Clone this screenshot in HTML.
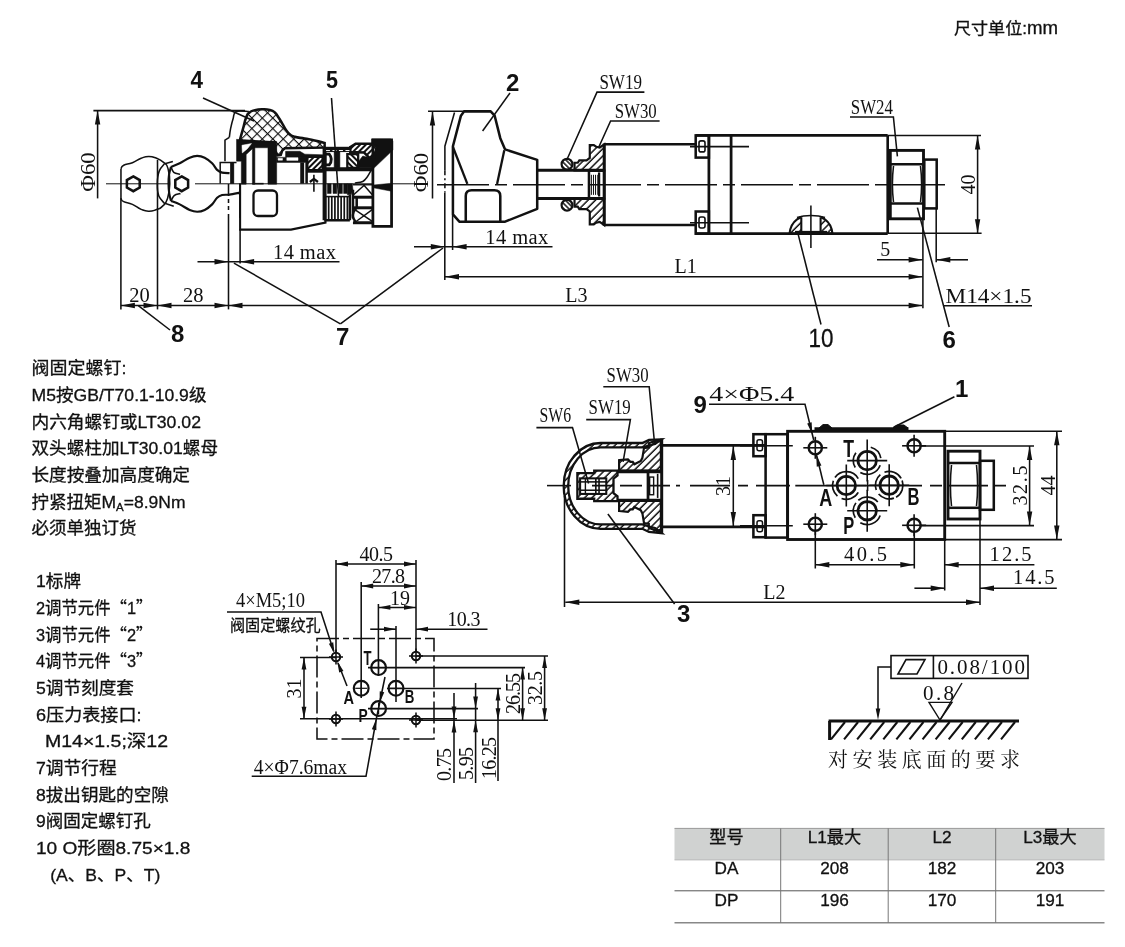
<!DOCTYPE html>
<html lang="zh"><head><meta charset="utf-8"><title>尺寸</title>
<style>
html,body{margin:0;padding:0;background:#fff;}
body{width:1125px;height:947px;overflow:hidden;position:relative;font-family:"Liberation Sans","Noto Sans CJK SC",sans-serif;color:#111;}
svg{position:absolute;left:0;top:0;will-change:transform;}
.cad{font-family:"Liberation Serif","Noto Serif CJK SC",serif;fill:#111;}
.sans{font-family:"Liberation Sans","Noto Sans CJK SC",sans-serif;fill:#111;stroke:#111;stroke-width:0.3;}
.cjk{font-family:"Noto Sans CJK SC",sans-serif;}
.num{font-family:"Liberation Sans","Noto Sans CJK SC",sans-serif;font-weight:bold;fill:#111;}
</style></head><body>
<svg width="1125" height="947" viewBox="0 0 1125 947">
<text x="954" y="34.3" font-size="16" class="sans" text-anchor="start" textLength="104" lengthAdjust="spacingAndGlyphs">尺寸单位:<tspan font-size="17.5">mm</tspan></text>
<text x="31.5" y="374.2" font-size="16.8" class="sans" text-anchor="start" textLength="95" lengthAdjust="spacingAndGlyphs">阀固定螺钉:</text>
<text x="31.5" y="400.9" font-size="16.8" class="sans" text-anchor="start" textLength="175" lengthAdjust="spacingAndGlyphs">M5按GB/T70.1-10.9级</text>
<text x="31.5" y="427.6" font-size="16.8" class="sans" text-anchor="start" textLength="169.5" lengthAdjust="spacingAndGlyphs">内六角螺钉或LT30.02</text>
<text x="31.5" y="454.3" font-size="16.8" class="sans" text-anchor="start" textLength="186.5" lengthAdjust="spacingAndGlyphs">双头螺柱加LT30.01螺母</text>
<text x="31.5" y="481" font-size="16.8" class="sans" text-anchor="start" textLength="158.5" lengthAdjust="spacingAndGlyphs">长度按叠加高度确定</text>
<text x="31.5" y="507.7" font-size="16.8" class="sans" text-anchor="start" textLength="154" lengthAdjust="spacingAndGlyphs">拧紧扭矩M<tspan font-size="11" dy="3">A</tspan><tspan dy="-3">=8.9Nm</tspan></text>
<text x="31.5" y="534.4" font-size="16.8" class="sans" text-anchor="start" textLength="105" lengthAdjust="spacingAndGlyphs">必须单独订货</text>
<text x="36" y="587.3" font-size="16.8" class="sans" text-anchor="start" textLength="45" lengthAdjust="spacingAndGlyphs">1标牌</text>
<text x="36" y="613.98" font-size="16.8" class="sans" text-anchor="start" textLength="116.5" lengthAdjust="spacingAndGlyphs">2调节元件<tspan class="cjk">“</tspan>1<tspan class="cjk">”</tspan></text>
<text x="36" y="640.66" font-size="16.8" class="sans" text-anchor="start" textLength="116.5" lengthAdjust="spacingAndGlyphs">3调节元件<tspan class="cjk">“</tspan>2<tspan class="cjk">”</tspan></text>
<text x="36" y="667.34" font-size="16.8" class="sans" text-anchor="start" textLength="116.5" lengthAdjust="spacingAndGlyphs">4调节元件<tspan class="cjk">“</tspan>3<tspan class="cjk">”</tspan></text>
<text x="36" y="694.02" font-size="16.8" class="sans" text-anchor="start" textLength="98" lengthAdjust="spacingAndGlyphs">5调节刻度套</text>
<text x="36" y="720.7" font-size="16.8" class="sans" text-anchor="start" textLength="105.5" lengthAdjust="spacingAndGlyphs">6压力表接口:</text>
<text x="45" y="747.38" font-size="16.8" class="sans" text-anchor="start" textLength="123" lengthAdjust="spacingAndGlyphs">M14×1.5;深12</text>
<text x="36" y="774.06" font-size="16.8" class="sans" text-anchor="start" textLength="80.7" lengthAdjust="spacingAndGlyphs">7调节行程</text>
<text x="36" y="800.74" font-size="16.8" class="sans" text-anchor="start" textLength="132.8" lengthAdjust="spacingAndGlyphs">8拔出钥匙的空隙</text>
<text x="36" y="827.42" font-size="16.8" class="sans" text-anchor="start" textLength="114.8" lengthAdjust="spacingAndGlyphs">9阀固定螺钉孔</text>
<text x="36" y="854.1" font-size="16.8" class="sans" text-anchor="start" textLength="154.3" lengthAdjust="spacingAndGlyphs">10 O形圈8.75×1.8</text>
<text x="50.2" y="880.78" font-size="16.8" class="sans" text-anchor="start" textLength="110.2" lengthAdjust="spacingAndGlyphs">(A、B、P、T)</text>
<rect x="674.5" y="828.4" width="430" height="31.4" fill="#d0d2d1"/>
<line x1="674.5" y1="828.4" x2="1104.5" y2="828.4" stroke="#9a9a9a" stroke-width="1" />
<line x1="674.5" y1="859.9" x2="1104.5" y2="859.9" stroke="#aaa" stroke-width="0.8" />
<line x1="674.5" y1="890.8" x2="1104.5" y2="890.8" stroke="#555" stroke-width="1" />
<line x1="674.5" y1="922.8" x2="1104.5" y2="922.8" stroke="#888" stroke-width="1.4" />
<line x1="780.7" y1="828.4" x2="780.7" y2="922.8" stroke="#777" stroke-width="1" />
<line x1="888.2" y1="828.4" x2="888.2" y2="922.8" stroke="#777" stroke-width="1" />
<line x1="995.7" y1="828.4" x2="995.7" y2="922.8" stroke="#777" stroke-width="1" />
<text x="726.5" y="843.2" font-size="17.2" class="sans" text-anchor="middle" >型号</text>
<text x="834.5" y="843.2" font-size="17.2" class="sans" text-anchor="middle" >L1最大</text>
<text x="942" y="843.2" font-size="17.2" class="sans" text-anchor="middle" >L2</text>
<text x="1050" y="843.2" font-size="17.2" class="sans" text-anchor="middle" >L3最大</text>
<text x="726.5" y="873.6" font-size="17.2" class="sans" text-anchor="middle" >DA</text>
<text x="834.5" y="873.6" font-size="17.2" class="sans" text-anchor="middle" >208</text>
<text x="942" y="873.6" font-size="17.2" class="sans" text-anchor="middle" >182</text>
<text x="1050" y="873.6" font-size="17.2" class="sans" text-anchor="middle" >203</text>
<text x="726.5" y="905.6" font-size="17.2" class="sans" text-anchor="middle" >DP</text>
<text x="834.5" y="905.6" font-size="17.2" class="sans" text-anchor="middle" >196</text>
<text x="942" y="905.6" font-size="17.2" class="sans" text-anchor="middle" >170</text>
<text x="1050" y="905.6" font-size="17.2" class="sans" text-anchor="middle" >191</text>
<line x1="93.4" y1="110.6" x2="245" y2="110.6" stroke="#111" stroke-width="1.55" />
<line x1="97.6" y1="110.6" x2="97.6" y2="198.4" stroke="#111" stroke-width="1.55" />
<polygon points="97.6,110.6 100.3,124.6 94.9,124.6" fill="#111"/>
<text x="94.6" y="172" font-size="21.5" class="cad" text-anchor="middle" transform="rotate(-90 94.6 172)" textLength="39.5" lengthAdjust="spacingAndGlyphs">Φ60</text>
<line x1="106" y1="183.8" x2="168" y2="183.8" stroke="#111" stroke-width="1" />
<line x1="195" y1="183.8" x2="372" y2="183.8" stroke="#111" stroke-width="1" />
<line x1="392" y1="183.8" x2="418" y2="183.8" stroke="#111" stroke-width="1" />
<path d="M120.96,168.64 C121.69,167.74 120.64,166.87 123.7,165.28 C126.76,163.69 127.77,164.53 132.42,162.67 C137.07,160.81 136.81,159.97 141.13,158.31 C145.45,156.65 144.62,156.51 148.61,156.44 C152.60,156.37 152.10,156.47 156.08,158.06 C160.06,159.65 160.36,159.60 163.55,162.42 C166.74,165.24 166.37,162.93 168.03,168.64 C169.69,174.35 169.91,175.87 169.78,183.84 C169.65,191.81 169.52,192.52 167.53,198.53 C165.54,204.54 165.35,203.39 162.3,206.38 C159.25,209.37 159.73,208.45 156.08,209.74 C152.43,211.03 152.60,211.33 148.61,211.23 C144.62,211.13 145.45,211.19 141.13,209.36 C136.81,207.53 137.07,206.44 132.42,204.38 C127.77,202.32 126.76,203.20 123.7,201.64 C120.64,200.08 121.69,199.36 120.96,198.53" fill="none" stroke="#111" stroke-width="1.55" />
<polyline points="120.96,168.64 120.96,198.53" fill="none" stroke="#111" stroke-width="1.55" />
<path d="M164.79,163.41 C163.86,164.70 160.44,167.72 159.19,171.13 C157.94,174.53 157.38,179.69 157.32,183.84 C157.26,187.99 157.57,192.72 158.82,196.04 C160.06,199.36 163.79,202.47 164.79,203.76" fill="none" stroke="#111" stroke-width="1.55" />
<polyline points="172.89,161.42 164.79,163.66" fill="none" stroke="#111" stroke-width="1.55" />
<polyline points="164.79,203.26 173.76,206.25" fill="none" stroke="#111" stroke-width="1.55" />
<path d="M171.02,166.77 C172.47,166.19 176.63,164.81 179.74,163.29 C182.85,161.77 186.79,158.91 189.7,157.68 C192.60,156.46 194.68,155.94 197.17,155.94 C199.66,155.94 202.16,156.46 204.65,157.68 C207.14,158.91 210.05,161.25 212.12,163.29 C214.19,165.32 215.44,168.33 217.1,169.89 C218.76,171.45 220.00,172.09 222.08,172.63 C224.16,173.17 228.31,173.05 229.55,173.13" fill="none" stroke="#111" stroke-width="2.18" />
<path d="M171.02,200.9 C172.47,201.48 176.63,202.87 179.74,204.38 C182.85,205.89 186.79,208.77 189.7,209.99 C192.60,211.22 194.68,211.73 197.17,211.73 C199.66,211.73 202.16,211.22 204.65,209.99 C207.14,208.77 210.05,206.41 212.12,204.38 C214.19,202.34 215.44,199.34 217.1,197.78 C218.76,196.22 220.00,195.58 222.08,195.04 C224.16,194.50 226.65,194.94 229.55,194.55 C232.46,194.16 237.85,192.99 239.51,192.68" fill="none" stroke="#111" stroke-width="2.18" />
<path d="M171.02,166.77 C170.69,168.12 169.44,172.03 169.03,174.87 C168.62,177.72 168.49,180.73 168.53,183.84 C168.57,186.95 168.87,190.69 169.28,193.55 C169.69,196.41 170.73,199.78 171.02,201.02" fill="none" stroke="#111" stroke-width="2.18" />
<path d="M171.02,166.77 C171.48,167.71 172.26,171.11 173.76,172.38 C175.25,173.65 178.95,174.04 179.99,174.37" fill="none" stroke="#111" stroke-width="1.6" />
<path d="M171.02,201.02 C171.54,200.11 172.55,196.78 174.13,195.54 C175.71,194.29 179.43,193.88 180.49,193.55" fill="none" stroke="#111" stroke-width="1.6" />
<polygon points="133.3,176.4 139.709,180.1 139.709,187.5 133.3,191.2 126.891,187.5 126.891,180.1" fill="none" stroke="#111" stroke-width="2.53" />
<polygon points="181.7,176.4 188.109,180.1 188.109,187.5 181.7,191.2 175.291,187.5 175.291,180.1" fill="none" stroke="#111" stroke-width="2.53" />
<line x1="120.9" y1="198" x2="120.9" y2="309.4" stroke="#111" stroke-width="1.55" />
<line x1="157.5" y1="160" x2="157.5" y2="309.4" stroke="#111" stroke-width="1.55" />
<line x1="228.5" y1="184" x2="228.5" y2="196" stroke="#111" stroke-width="1.55" />
<line x1="228.5" y1="199" x2="228.5" y2="203" stroke="#111" stroke-width="1.55" />
<line x1="228.5" y1="206" x2="228.5" y2="210" stroke="#111" stroke-width="1.55" />
<line x1="228.5" y1="214" x2="228.5" y2="309.4" stroke="#111" stroke-width="1.55" />
<defs>
<pattern id="xh" width="7.4" height="7.4" patternUnits="userSpaceOnUse" patternTransform="rotate(45) translate(2,1)"><path d="M0,0H7.4M0,0V7.4" stroke="#111" stroke-width="2.2" fill="none"/></pattern>
<pattern id="h45" width="3.4" height="3.4" patternUnits="userSpaceOnUse" patternTransform="rotate(-45)"><path d="M0,1H3.4" stroke="#111" stroke-width="1.3" fill="none"/></pattern>
<pattern id="h45f" width="2.6" height="2.6" patternUnits="userSpaceOnUse" patternTransform="rotate(-45)"><path d="M0,1H2.6" stroke="#111" stroke-width="1.1" fill="none"/></pattern>
<pattern id="h135" width="3.4" height="3.4" patternUnits="userSpaceOnUse" patternTransform="rotate(45)"><path d="M0,1H3.4" stroke="#111" stroke-width="1.3" fill="none"/></pattern>
<pattern id="h45s" width="5.2" height="5.2" patternUnits="userSpaceOnUse" patternTransform="rotate(-45)"><path d="M0,1H5.2" stroke="#111" stroke-width="1.5" fill="none"/></pattern>
<pattern id="h135s" width="3.6" height="3.6" patternUnits="userSpaceOnUse" patternTransform="rotate(45)"><path d="M0,1H3.6" stroke="#111" stroke-width="1.5" fill="none"/></pattern>
<pattern id="h45b" width="4" height="4" patternUnits="userSpaceOnUse" patternTransform="rotate(-45)"><path d="M0,1H4" stroke="#111" stroke-width="2" fill="none"/></pattern>
<pattern id="h135b" width="4" height="4" patternUnits="userSpaceOnUse" patternTransform="rotate(45)"><path d="M0,1H4" stroke="#111" stroke-width="2" fill="none"/></pattern>
<pattern id="hd" width="1.6" height="1.6" patternUnits="userSpaceOnUse" patternTransform="rotate(-45)"><path d="M0,0.6H1.6" stroke="#111" stroke-width="1.1" fill="none"/></pattern>
</defs>
<path d="M239.93,139.85 C240.76,136.86 241.38,134.62 243.04,128.64 C244.70,122.66 244.42,121.75 246.15,117.43 C247.88,113.11 247.18,114.38 249.51,112.45 C251.84,110.52 251.45,111.04 254.87,110.21 C258.29,109.38 258.36,109.41 262.34,109.34 C266.32,109.27 266.49,109.13 269.81,109.96 C273.13,110.79 272.46,110.46 274.79,112.45 C277.12,114.44 276.54,114.44 278.53,117.43 C280.52,120.42 280.28,120.34 282.27,123.66 C284.26,126.98 284.01,127.07 286,129.89 C287.99,132.71 287.41,132.42 289.74,134.25 C292.07,136.08 290.74,135.58 294.72,136.74 C298.70,137.90 299.37,137.62 304.68,138.61 C309.99,139.60 309.34,139.31 314.65,140.47 C319.96,141.63 321.95,142.30 324.61,142.96 L324.61,147.57 L284.76,148.32 L282.27,150.44 L280.77,154.79 L277.53,155.42 L275.42,151.06 L274.79,142.34 L239.93,140.47Z" fill="url(#xh)" stroke="#111" stroke-width="2.53" />
<path d="M248.89,111.46 C246.35,111.46 239.35,110.02 236.19,111.46 C233.03,112.90 234.20,115.24 233.08,118.68 C231.96,122.12 231.34,124.90 230.59,128.64 C229.84,132.38 229.59,135.62 229.34,137.36" fill="none" stroke="#111" stroke-width="1.55" />
<polyline points="229.34,137.36 224.98,140.1 224.98,161.27" fill="none" stroke="#111" stroke-width="1.55" />
<polygon points="236.52,139.34 243.68,139.96 251.77,141.52 276.68,141.52 276.68,184.17 267.96,184.17 267.96,147.75 254.89,147.75 254.89,184.17 252.4,184.17 252.4,148.68 246.17,154.6 246.17,184.17 241.31,184.17 241.31,161.13 236.52,161.13" fill="#111" stroke="#111" stroke-width="0.5" />
<polygon points="241.94,145.26 251.46,143.57 247.42,148.68 242.31,152.91" fill="#fff" stroke="#fff" stroke-width="0.5" />
<polyline points="252.4,183.67 263.61,183.67" fill="none" stroke="#111" stroke-width="1.6" />
<path d="M236.5,162.4 H220.2 V183.6" fill="none" stroke="#111" stroke-width="1.5" />
<rect x="230.3" y="162.4" width="3.6" height="21.2" rx="0" fill="#111" stroke="#111" stroke-width="0.5"/>
<polygon points="285.57,151.3 299.89,151.3 304.87,154.16 322.93,154.78 322.93,156.9 307.36,156.9 301.13,157.4 285.57,157.4" fill="#111" stroke="#111" stroke-width="0.5" />
<polygon points="276.54,157.4 307.36,156.9 307.36,162.38 276.54,162.38" fill="#111" stroke="#111" stroke-width="0.5" />
<polygon points="286.81,157.71 298.02,157.71 298.02,160.39 286.81,160.39" fill="#fff" stroke="#fff" stroke-width="0.5" />
<polygon points="278.09,158.33 282.45,158.33 282.45,160.2 278.09,160.2" fill="#fff" stroke="#fff" stroke-width="0.5" />
<polygon points="301.13,157.4 307.36,156.9 307.36,160.39 301.13,160.39" fill="url(#h45b)" stroke="#111" stroke-width="0.5" />
<polygon points="307.36,156.9 322.62,156.9 322.62,170.16 307.36,170.16" fill="url(#h45b)" stroke="#111" stroke-width="2.3" />
<polyline points="306.74,171.22 322.93,171.22" fill="none" stroke="#111" stroke-width="2.99" />
<polyline points="302.19,162.38 302.19,183.55" fill="none" stroke="#111" stroke-width="3.91" />
<polyline points="306.61,162.38 306.61,183.55" fill="none" stroke="#111" stroke-width="2.53" />
<polyline points="313.9,174.83 313.9,191.64" fill="none" stroke="#111" stroke-width="1.6" />
<path d="M309.85,181.99 L313.9,178.88 L317.95,181.99" fill="none" stroke="#111" stroke-width="2.3" />
<polyline points="239.93,183.19 239.93,217.93" fill="none" stroke="#111" stroke-width="1.6" />
<rect x="253.5" y="190.5" width="23.5" height="25.5" rx="4.5" fill="none" stroke="#111" stroke-width="2.3"/>
<path d="M240.1,184 V229.6 H291 L325.5,222.6 V150" fill="none" stroke="#111" stroke-width="2.07" />
<line x1="240.1" y1="229" x2="240.1" y2="263.5" stroke="#111" stroke-width="1.55" />
<path d="M239.51,192.68 C239.51,193.03 239.51,194.44 239.51,194.79" fill="none" stroke="#111" stroke-width="1.5" />
<polygon points="372.89,139.93 391.57,139.93 391.57,226.48 372.89,226.48" fill="none" stroke="#111" stroke-width="2.76" />
<polygon points="371.67,138.91 390.42,138.91 392.92,140.88 392.92,150.09 374.3,167.86 358.84,167.86 358.84,160.95 362.79,156.01 369.37,157.79 374.63,157 376.93,146.14 371.67,143.51" fill="#111" stroke="#111" stroke-width="0.5" />
<polygon points="350.29,147 355.55,143.84 371.67,143.84 376.74,146.34 374.3,157.13 369.37,157.79 364.11,152.53 350.29,152.07" fill="url(#h45b)" stroke="#111" stroke-width="2.53" />
<polyline points="323.97,149.43 350.95,149.43" fill="none" stroke="#111" stroke-width="5.29" />
<polyline points="325.95,150.55 349.63,150.55" fill="none" stroke="#fff" stroke-width="1" stroke-dasharray="4 2.5"/>
<path d="M324.96,154.04 L329.24,154.04 Q333.51,159.3 329.24,164.89 L324.96,164.89 Z" fill="none" stroke="#111" stroke-width="2.76" />
<polygon points="334.17,151.74 339.89,151.74 339.89,167.86 334.17,167.86" fill="#111" stroke="#111" stroke-width="0.5" />
<polygon points="347.33,154.04 358.18,154.04 358.18,167.86 347.33,167.86" fill="url(#h135b)" stroke="#111" stroke-width="2.3" />
<polyline points="322,169.17 372.99,169.17" fill="none" stroke="#111" stroke-width="3.91" />
<polyline points="324.32,147.65 324.32,220.25" fill="none" stroke="#111" stroke-width="3.45" />
<path d="M371.01,170.49 C370.41,171.53 368.76,174.91 367.39,176.74 C366.02,178.57 364.87,180.43 362.79,181.47 C360.71,182.51 356.21,182.74 354.89,182.99" fill="none" stroke="#111" stroke-width="1.5" />
<polygon points="373.51,185.01 391.57,183.26 391.57,191.23 373.51,187.87" fill="#111" stroke="#111" stroke-width="0.5" />
<polygon points="327.43,183.76 331.17,183.76 331.17,193.47 327.43,193.47" fill="#111" stroke="#111" stroke-width="0.5" />
<polygon points="333.04,183.76 336.77,183.76 336.77,193.47 333.04,193.47" fill="#111" stroke="#111" stroke-width="0.5" />
<polygon points="338.64,183.76 342.38,183.76 342.38,193.47 338.64,193.47" fill="#111" stroke="#111" stroke-width="0.5" />
<polygon points="343.62,183.76 347.36,183.76 347.36,193.47 343.62,193.47" fill="#111" stroke="#111" stroke-width="0.5" />
<polygon points="347.36,183.76 352.34,183.76 352.96,189.74 351.1,194.72 347.36,194.72" fill="#111" stroke="#111" stroke-width="0.5" />
<polyline points="325.57,196.59 325.57,219.63" fill="none" stroke="#111" stroke-width="1.7" />
<polyline points="328.68,196.59 328.68,219.63" fill="none" stroke="#111" stroke-width="1.7" />
<polyline points="331.79,196.59 331.79,219.63" fill="none" stroke="#111" stroke-width="1.7" />
<polyline points="334.91,196.59 334.91,219.63" fill="none" stroke="#111" stroke-width="1.7" />
<polyline points="338.02,196.59 338.02,219.63" fill="none" stroke="#111" stroke-width="1.7" />
<polyline points="341.13,196.59 341.13,219.63" fill="none" stroke="#111" stroke-width="1.7" />
<polyline points="344.25,196.59 344.25,219.63" fill="none" stroke="#111" stroke-width="1.7" />
<polyline points="347.36,196.59 347.36,219.63" fill="none" stroke="#111" stroke-width="1.7" />
<polyline points="324.32,220.25 349.85,220.25" fill="none" stroke="#111" stroke-width="2.53" />
<polyline points="325.57,196.59 349.85,196.59" fill="none" stroke="#111" stroke-width="1.55" />
<polyline points="349.85,194.72 349.85,220.25" fill="none" stroke="#111" stroke-width="2.53" />
<polyline points="352.96,184.76 372.27,184.76" fill="none" stroke="#111" stroke-width="1.4" />
<polyline points="352.96,197.21 372.27,197.21" fill="none" stroke="#111" stroke-width="2.99" />
<polyline points="352.96,207.8 372.27,207.8" fill="none" stroke="#111" stroke-width="2.99" />
<polyline points="352.96,222.74 372.27,222.74" fill="none" stroke="#111" stroke-width="2.99" />
<polyline points="356.7,197.21 356.7,207.8" fill="none" stroke="#111" stroke-width="2.53" />
<polyline points="352.96,189.74 352.96,218.38" fill="none" stroke="#111" stroke-width="2.53" />
<polyline points="353.59,194.72 364.79,184.76" fill="none" stroke="#111" stroke-width="1.5" />
<polyline points="363.55,184.76 372.27,194.72" fill="none" stroke="#111" stroke-width="1.5" />
<polyline points="354.83,209.66 372.27,221.49" fill="none" stroke="#111" stroke-width="1.5" />
<polyline points="356.08,221.49 372.27,209.66" fill="none" stroke="#111" stroke-width="1.5" />
<path d="M356.7,207.8 C356.18,208.53 354.21,210.59 353.59,212.15 C352.97,213.71 352.54,215.38 352.96,217.14 C353.38,218.90 355.56,221.81 356.08,222.74" fill="none" stroke="#111" stroke-width="2.3" />
<line x1="331.5" y1="98" x2="338.5" y2="196" stroke="#111" stroke-width="1.55" />
<line x1="432.5" y1="111.5" x2="432.5" y2="198.5" stroke="#111" stroke-width="1.55" />
<polygon points="432.5,111.5 435.2,125.5 429.8,125.5" fill="#111"/>
<text x="427.6" y="172.5" font-size="21.5" class="cad" text-anchor="middle" transform="rotate(-90 427.6 172.5)" textLength="39.5" lengthAdjust="spacingAndGlyphs">Φ60</text>
<text x="190.5" y="87.5" font-size="24" class="num" text-anchor="start" textLength="12.5" lengthAdjust="spacingAndGlyphs">4</text>
<text x="326" y="87.5" font-size="24" class="num" text-anchor="start" textLength="12" lengthAdjust="spacingAndGlyphs">5</text>
<line x1="203" y1="98" x2="254" y2="121" stroke="#111" stroke-width="1.55" />
<line x1="197.5" y1="261.8" x2="339.5" y2="261.8" stroke="#111" stroke-width="1.55" />
<polygon points="228.5,261.8 214.5,264.5 214.5,259.1" fill="#111"/>
<polygon points="240.1,261.8 254.1,259.1 254.1,264.5" fill="#111"/>
<text x="273" y="258.5" font-size="20.5" class="cad" text-anchor="start" textLength="63" lengthAdjust="spacing">14 max</text>
<line x1="120.9" y1="305.5" x2="922" y2="305.5" stroke="#111" stroke-width="1.55" />
<polygon points="120.9,305.5 134.9,302.8 134.9,308.2" fill="#111"/>
<polygon points="157.5,305.5 143.5,308.2 143.5,302.8" fill="#111"/>
<polygon points="157.5,305.5 171.5,302.8 171.5,308.2" fill="#111"/>
<polygon points="228.5,305.5 214.5,308.2 214.5,302.8" fill="#111"/>
<polygon points="228.5,305.5 242.5,302.8 242.5,308.2" fill="#111"/>
<text x="129.3" y="302" font-size="20.5" class="cad" text-anchor="start" >20</text>
<text x="183" y="302" font-size="20.5" class="cad" text-anchor="start" >28</text>
<line x1="138.3" y1="305.7" x2="170" y2="330" stroke="#111" stroke-width="1.55" />
<text x="171" y="341.5" font-size="24" class="num" text-anchor="start" >8</text>
<line x1="233.9" y1="263.1" x2="340.4" y2="323.9" stroke="#111" stroke-width="1.55" />
<line x1="340.4" y1="323.9" x2="443" y2="248" stroke="#111" stroke-width="1.55" />
<text x="336" y="344.5" font-size="24" class="num" text-anchor="start" >7</text>
<path d="M460.94,115.69 L452.92,146.2 L452.92,214.44 L459.34,221.66 L505.1,221.66 L537.21,208.82 L537.21,159.85 L505.1,149.41 L500.28,138.17 L494.66,115.69 L490.65,111.36 L464.16,111.36Z" fill="none" stroke="#111" stroke-width="2.53" stroke-linejoin="round"/>
<polyline points="452.92,147 467.37,183.93" fill="none" stroke="#111" stroke-width="2.3" />
<polyline points="504.3,150.21 497.07,183.93" fill="none" stroke="#111" stroke-width="2.3" />
<path d="M465.76,221.66 L465.76,195.97 Q465.76,190.35 471.7,190.35 L494.34,190.35 Q500.28,190.35 500.28,195.97 L500.28,221.66" fill="none" stroke="#111" stroke-width="2.53" />
<polyline points="428.03,111.19 466.56,111.19" fill="none" stroke="#111" stroke-width="1.55" />
<polyline points="454.52,112.48 444.89,146.2 444.89,170.28" fill="none" stroke="#111" stroke-width="1.55" />
<polyline points="444.89,170.28 444.89,192.76" fill="none" stroke="#111" stroke-width="1.55" stroke-dasharray="5 3 2 3"/>
<line x1="444.8" y1="193" x2="444.8" y2="280" stroke="#111" stroke-width="1.55" />
<line x1="452.6" y1="215" x2="452.6" y2="250" stroke="#111" stroke-width="1.55" />
<line x1="437" y1="184.7" x2="945" y2="184.7" stroke="#111" stroke-width="1.55" stroke-dasharray="52 6 12 6"/>
<line x1="537.2" y1="170.3" x2="604" y2="170.3" stroke="#111" stroke-width="2.99" />
<line x1="537.2" y1="198.6" x2="604" y2="198.6" stroke="#111" stroke-width="2.99" />
<circle cx="567" cy="164.2" r="5.4" fill="url(#h135s)" stroke="#111" stroke-width="2.18"/>
<circle cx="567" cy="205.2" r="5.4" fill="url(#h135s)" stroke="#111" stroke-width="2.18"/>
<polygon points="604.23,144.3 599.73,147.51 596.2,146.71 593.79,145.1 589.78,145.1 589.78,157.94 586.56,160.35 579.34,160.35 577.73,162.76 574.52,162.76 574.52,170.47 588.97,170.47 604.23,170.47" fill="url(#h45s)" stroke="#111" stroke-width="2.18" />
<polygon points="604.23,225.1 599.73,221.89 596.2,222.69 593.79,224.3 589.78,224.3 589.78,211.46 586.56,209.05 579.34,209.05 577.73,206.64 574.52,206.64 574.52,198.93 588.97,198.93 604.23,198.93" fill="url(#h45s)" stroke="#111" stroke-width="2.18" />
<polygon points="588.97,170.79 604.23,170.79 604.23,198.41 588.97,198.41" fill="none" stroke="#111" stroke-width="2.53" />
<polyline points="591.38,174.8 591.38,194.87" fill="none" stroke="#111" stroke-width="1.0" />
<polyline points="593.47,174.8 593.47,194.87" fill="none" stroke="#111" stroke-width="1.0" />
<polyline points="595.56,174.8 595.56,194.87" fill="none" stroke="#111" stroke-width="1.0" />
<polyline points="597.8,174.8 597.8,194.87" fill="none" stroke="#111" stroke-width="1.0" />
<polyline points="599.09,172.4 599.09,196.48" fill="none" stroke="#111" stroke-width="2.3" />
<line x1="604.2" y1="143.5" x2="604.2" y2="225.8" stroke="#111" stroke-width="2.99" />
<line x1="604.2" y1="144.3" x2="697" y2="144.3" stroke="#111" stroke-width="2.53" />
<line x1="604.2" y1="225.1" x2="697" y2="225.1" stroke="#111" stroke-width="2.53" />
<rect x="695.7" y="135.4" width="13.2" height="22.2" rx="0" fill="none" stroke="#111" stroke-width="2.53"/>
<rect x="699" y="140.9" width="6" height="11" rx="2" fill="none" stroke="#111" stroke-width="1.6"/>
<rect x="695.7" y="211.5" width="13.2" height="22.2" rx="0" fill="none" stroke="#111" stroke-width="2.53"/>
<rect x="699" y="217" width="6" height="11" rx="2" fill="none" stroke="#111" stroke-width="1.6"/>
<line x1="690" y1="146.6" x2="749" y2="146.6" stroke="#111" stroke-width="1.55" />
<line x1="690" y1="222.7" x2="749" y2="222.7" stroke="#111" stroke-width="1.55" />
<line x1="695.7" y1="135.4" x2="887.7" y2="135.4" stroke="#111" stroke-width="2.64" />
<line x1="695.7" y1="233.6" x2="887.7" y2="233.6" stroke="#111" stroke-width="2.64" />
<line x1="708.9" y1="135.4" x2="708.9" y2="233.6" stroke="#111" stroke-width="2.76" />
<line x1="731.1" y1="135.4" x2="731.1" y2="233.6" stroke="#111" stroke-width="2.76" />
<line x1="887.7" y1="135.4" x2="887.7" y2="233.6" stroke="#111" stroke-width="2.64" />
<path d="M789.5,233.6 C791,220 801,215.4 810.9,215.4 C821,215.4 831,220 832.5,233.6 Z" fill="url(#h45s)" stroke="#111" stroke-width="2.07" />
<rect x="801.3" y="214" width="19.4" height="18.6" fill="#fff"/>
<path d="M801.3,217.2 V233 M820.6,217.2 V233" fill="none" stroke="#111" stroke-width="2.07" />
<path d="M797,217.6 C805,214.8 817,214.8 825,217.6" fill="none" stroke="#111" stroke-width="1.6" />
<line x1="795" y1="232.6" x2="827" y2="232.6" stroke="#111" stroke-width="3.45" />
<line x1="810.9" y1="205.5" x2="810.9" y2="248" stroke="#111" stroke-width="1.55" />
<rect x="890.3" y="150.4" width="33.2" height="68.4" rx="0" fill="none" stroke="#111" stroke-width="2.88"/>
<line x1="890.3" y1="164.3" x2="923.5" y2="164.3" stroke="#111" stroke-width="2.53" />
<line x1="890.3" y1="203.6" x2="923.5" y2="203.6" stroke="#111" stroke-width="2.53" />
<path d="M893.5,166 Q891.3,184.5 893.5,202" fill="none" stroke="#111" stroke-width="1.55" />
<path d="M920.5,166 Q922.7,184.5 920.5,202" fill="none" stroke="#111" stroke-width="1.55" />
<rect x="924.3" y="159.6" width="12.4" height="48.8" rx="0" fill="none" stroke="#111" stroke-width="2.53"/>
<line x1="922.9" y1="219" x2="922.9" y2="308.3" stroke="#111" stroke-width="1.55" />
<line x1="936.2" y1="208" x2="936.2" y2="262.3" stroke="#111" stroke-width="1.55" />
<line x1="887.7" y1="135.4" x2="981" y2="135.4" stroke="#111" stroke-width="1.55" />
<line x1="887.7" y1="233.3" x2="981.6" y2="233.3" stroke="#111" stroke-width="1.55" />
<line x1="977.6" y1="135.4" x2="977.6" y2="233.3" stroke="#111" stroke-width="1.55" />
<polygon points="977.6,135.4 980.3,149.4 974.9,149.4" fill="#111"/>
<polygon points="977.6,233.3 974.9,219.3 980.3,219.3" fill="#111"/>
<text x="975" y="184.4" font-size="20" class="cad" text-anchor="middle" transform="rotate(-90 975 184.4)" >40</text>
<line x1="877" y1="259.8" x2="922.6" y2="259.8" stroke="#111" stroke-width="1.55" />
<polygon points="922.6,259.8 908.6,262.5 908.6,257.1" fill="#111"/>
<line x1="936.3" y1="259.8" x2="968" y2="259.8" stroke="#111" stroke-width="1.55" />
<polygon points="936.3,259.8 950.3,257.1 950.3,262.5" fill="#111"/>
<text x="880.3" y="256" font-size="20" class="cad" text-anchor="start" >5</text>
<line x1="445" y1="276.8" x2="922.6" y2="276.8" stroke="#111" stroke-width="1.55" />
<polygon points="445,276.8 459,274.1 459,279.5" fill="#111"/>
<polygon points="922.6,276.8 908.6,279.5 908.6,274.1" fill="#111"/>
<polygon points="922.6,305.5 908.6,308.2 908.6,302.8" fill="#111"/>
<text x="674.5" y="273.3" font-size="20" class="cad" text-anchor="start" >L1</text>
<text x="565.3" y="302" font-size="20" class="cad" text-anchor="start" >L3</text>
<line x1="414" y1="246.7" x2="552.5" y2="246.7" stroke="#111" stroke-width="1.55" />
<polygon points="444.8,246.7 430.8,249.4 430.8,244" fill="#111"/>
<polygon points="452.6,246.7 466.6,244 466.6,249.4" fill="#111"/>
<text x="485.3" y="243.5" font-size="20.5" class="cad" text-anchor="start" textLength="63" lengthAdjust="spacing">14 max</text>
<text x="599.4" y="88.6" font-size="20.5" class="cad" text-anchor="start" textLength="42.6" lengthAdjust="spacingAndGlyphs">SW19</text>
<path d="M644.4,92.1 H597 L567.3,158.7" fill="none" stroke="#111" stroke-width="1.55" />
<text x="614.7" y="117.5" font-size="20.5" class="cad" text-anchor="start" textLength="42" lengthAdjust="spacingAndGlyphs">SW30</text>
<path d="M659.6,121 H610.6 L598.6,147.5" fill="none" stroke="#111" stroke-width="1.55" />
<text x="850.8" y="113.7" font-size="20.5" class="cad" text-anchor="start" textLength="42.2" lengthAdjust="spacingAndGlyphs">SW24</text>
<path d="M850,116.9 H893.4 L897.4,156.3" fill="none" stroke="#111" stroke-width="1.55" />
<text x="945.5" y="302.6" font-size="20.5" class="cad" text-anchor="start" textLength="86" lengthAdjust="spacingAndGlyphs">M14×1.5</text>
<line x1="943" y1="305.8" x2="1032" y2="305.8" stroke="#111" stroke-width="1.55" />
<line x1="917.4" y1="207.6" x2="949.2" y2="327" stroke="#111" stroke-width="1.55" />
<text x="942.5" y="348" font-size="24" class="num" text-anchor="start" >6</text>
<line x1="798" y1="233.6" x2="821" y2="324.5" stroke="#111" stroke-width="1.55" />
<text x="808.5" y="347" font-size="25" class="sans" text-anchor="start" textLength="25" lengthAdjust="spacingAndGlyphs" stroke-width="0.7">10</text>
<line x1="482.6" y1="131" x2="510" y2="93" stroke="#111" stroke-width="1.55" />
<text x="506" y="90.7" font-size="24" class="num" text-anchor="start" >2</text>
<path d="M661.7,439.3 L649,439.8 L642.4,443 L600.6,443 A36.9,42.9 0 0 0 600.6,528.8 L642.4,528.8 L649,532 L661.7,533.3 L655,528 L649,526.5 L642.4,524.4 L600.6,524.4 A32.4,38.5 0 0 1 600.6,447.4 L642.4,447.4 L649,445.5 L655,444 Z" fill="url(#h45s)" stroke="#111" stroke-width="2.3" fill-rule="evenodd"/>
<line x1="661.7" y1="438.6" x2="661.7" y2="534" stroke="#111" stroke-width="2.99" />
<line x1="661.7" y1="445.4" x2="765" y2="445.4" stroke="#111" stroke-width="2.76" />
<line x1="661.7" y1="526.8" x2="765" y2="526.8" stroke="#111" stroke-width="2.76" />
<polygon points="577.37,473.06 594.23,473.06 594.23,470.65 617.51,470.65 617.51,475.47 613.49,478.68 613.49,493.13 617.51,496.34 617.51,501.16 594.23,501.16 594.23,498.75 577.37,498.75" fill="url(#h45s)" stroke="#111" stroke-width="2.3" />
<rect x="580.1" y="478.36" width="26.1721" height="15.5748" rx="0" fill="#fff" stroke="#111" stroke-width="2.07"/>
<polyline points="585.39,478.36 585.39,493.93" fill="none" stroke="#111" stroke-width="1.4" />
<polyline points="595.83,478.36 595.83,493.93" fill="none" stroke="#111" stroke-width="1.6" />
<polyline points="599.04,478.36 599.04,493.93" fill="none" stroke="#111" stroke-width="1.6" />
<polyline points="580.1,481.89 606.27,481.89" fill="none" stroke="#111" stroke-width="1.55" />
<polyline points="580.1,490.24 606.27,490.24" fill="none" stroke="#111" stroke-width="1.55" />
<polyline points="617.51,471.45 661.66,471.45" fill="none" stroke="#111" stroke-width="3.45" />
<polyline points="617.51,500.35 661.66,500.35" fill="none" stroke="#111" stroke-width="3.45" />
<polyline points="648.02,471.45 648.02,500.35" fill="none" stroke="#111" stroke-width="2.76" />
<rect x="649.62" y="477.07" width="4.01413" height="17.6622" rx="0" fill="none" stroke="#111" stroke-width="1.4"/>
<polyline points="657.65,473.86 657.65,497.94" fill="none" stroke="#111" stroke-width="1.6" />
<polygon points="619.11,460.21 627.94,459.41 630.35,461.82 632.76,461.82 634.37,464.23 640.79,461.01 642.4,457.8 644,448.17 648.82,447.37 648.82,443.35 656.85,440.14 660.86,441.75 660.86,470.65 619.11,470.65" fill="url(#h45s)" stroke="#111" stroke-width="2.18" />
<polygon points="619.11,510.99 627.94,511.79 630.35,509.38 632.76,509.38 634.37,506.97 640.79,510.19 642.4,513.4 644,523.03 648.82,523.83 648.82,527.85 656.85,531.06 660.86,529.45 660.86,500.55 619.11,500.55" fill="url(#h45s)" stroke="#111" stroke-width="2.18" />
<text x="539.6" y="421.7" font-size="20.5" class="cad" text-anchor="start" textLength="31.5" lengthAdjust="spacingAndGlyphs">SW6</text>
<path d="M536.4,427.6 H572.5 L588.6,483.5" fill="none" stroke="#111" stroke-width="1.55" />
<text x="588.6" y="413.6" font-size="20.5" class="cad" text-anchor="start" textLength="42.2" lengthAdjust="spacingAndGlyphs">SW19</text>
<path d="M586.2,419.6 H630.4 L623.1,461.8" fill="none" stroke="#111" stroke-width="1.55" />
<text x="606.6" y="381.5" font-size="20.5" class="cad" text-anchor="start" textLength="42" lengthAdjust="spacingAndGlyphs">SW30</text>
<path d="M603.3,386.7 H649.2 L654.7,445" fill="none" stroke="#111" stroke-width="1.55" />
<line x1="607.9" y1="514" x2="674.6" y2="604" stroke="#111" stroke-width="1.55" />
<text x="677" y="622.4" font-size="24" class="num" text-anchor="start" >3</text>
<line x1="564.5" y1="496" x2="564.5" y2="607" stroke="#111" stroke-width="1.55" />
<line x1="565.3" y1="602.2" x2="980" y2="602.2" stroke="#111" stroke-width="1.55" />
<polygon points="565.3,602.2 579.3,599.5 579.3,604.9" fill="#111"/>
<polygon points="980,602.2 966,604.9 966,599.5" fill="#111"/>
<text x="763.3" y="598.5" font-size="20" class="cad" text-anchor="start" >L2</text>
<line x1="733.3" y1="446" x2="733.3" y2="526" stroke="#111" stroke-width="1.55" />
<polygon points="733.3,446 736,460 730.6,460" fill="#111"/>
<polygon points="733.3,526 730.6,512 736,512" fill="#111"/>
<text x="729.7" y="486" font-size="20" class="cad" text-anchor="middle" transform="rotate(-90 729.7 486)" >31</text>
<rect x="753.4" y="434.2" width="12.2" height="22" rx="0" fill="none" stroke="#111" stroke-width="2.53"/>
<rect x="757" y="439.7" width="5.5" height="11" rx="2" fill="none" stroke="#111" stroke-width="1.5"/>
<rect x="753.4" y="515.2" width="12.2" height="22" rx="0" fill="none" stroke="#111" stroke-width="2.53"/>
<rect x="757" y="520.7" width="5.5" height="11" rx="2" fill="none" stroke="#111" stroke-width="1.5"/>
<line x1="740" y1="445.8" x2="792.8" y2="445.8" stroke="#111" stroke-width="1.55" />
<line x1="740" y1="525.8" x2="792.8" y2="525.8" stroke="#111" stroke-width="1.55" />
<rect x="765.6" y="434.2" width="21.9" height="103.4" rx="0" fill="none" stroke="#111" stroke-width="2.53"/>
<rect x="787.6" y="431.3" width="157.1" height="108.2" rx="0" fill="none" stroke="#111" stroke-width="2.88"/>
<line x1="814.5" y1="429.6" x2="908.5" y2="429.6" stroke="#111" stroke-width="4.83" />
<path d="M819,428 L823,424.6 L828,424.6 L832,428Z M893,428 L897,425 L904,425 L908,428Z" fill="#111" stroke="#111" stroke-width="1" />
<circle cx="815.3" cy="447.8" r="6.6" fill="none" stroke="#111" stroke-width="2.42"/>
<line x1="803.3" y1="447.8" x2="827.3" y2="447.8" stroke="#111" stroke-width="1.6" />
<line x1="815.3" y1="436.8" x2="815.3" y2="458.8" stroke="#111" stroke-width="1.6" />
<circle cx="914.1" cy="445.8" r="6.6" fill="none" stroke="#111" stroke-width="2.42"/>
<line x1="902.1" y1="445.8" x2="926.1" y2="445.8" stroke="#111" stroke-width="1.6" />
<line x1="914.1" y1="434.8" x2="914.1" y2="456.8" stroke="#111" stroke-width="1.6" />
<circle cx="815.3" cy="524.2" r="6.6" fill="none" stroke="#111" stroke-width="2.42"/>
<line x1="803.3" y1="524.2" x2="827.3" y2="524.2" stroke="#111" stroke-width="1.6" />
<line x1="815.3" y1="513.2" x2="815.3" y2="535.2" stroke="#111" stroke-width="1.6" />
<circle cx="914.1" cy="525.3" r="6.6" fill="none" stroke="#111" stroke-width="2.42"/>
<line x1="902.1" y1="525.3" x2="926.1" y2="525.3" stroke="#111" stroke-width="1.6" />
<line x1="914.1" y1="514.3" x2="914.1" y2="536.3" stroke="#111" stroke-width="1.6" />
<circle cx="867.2" cy="460.6" r="9.2" fill="none" stroke="#111" stroke-width="2.76"/>
<line x1="847.2" y1="460.6" x2="887.2" y2="460.6" stroke="#111" stroke-width="1.6" />
<line x1="867.2" y1="439.6" x2="867.2" y2="481.6" stroke="#111" stroke-width="1.6" />
<circle cx="846.3" cy="485.5" r="9.2" fill="none" stroke="#111" stroke-width="2.76"/>
<line x1="826.3" y1="485.5" x2="866.3" y2="485.5" stroke="#111" stroke-width="1.6" />
<line x1="846.3" y1="464.5" x2="846.3" y2="506.5" stroke="#111" stroke-width="1.6" />
<circle cx="889.2" cy="485.2" r="9.2" fill="none" stroke="#111" stroke-width="2.76"/>
<line x1="869.2" y1="485.2" x2="909.2" y2="485.2" stroke="#111" stroke-width="1.6" />
<line x1="889.2" y1="464.2" x2="889.2" y2="506.2" stroke="#111" stroke-width="1.6" />
<circle cx="867.2" cy="510.8" r="9.2" fill="none" stroke="#111" stroke-width="2.76"/>
<line x1="847.2" y1="510.8" x2="887.2" y2="510.8" stroke="#111" stroke-width="1.6" />
<line x1="867.2" y1="489.8" x2="867.2" y2="531.8" stroke="#111" stroke-width="1.6" />
<path d="M855.25,467.50 A13.8,13.8 0 0 1 855.90,452.68" fill="none" stroke="#111" stroke-width="1.7" />
<path d="M870.77,447.27 A13.8,13.8 0 0 1 880.79,458.20" fill="none" stroke="#111" stroke-width="1.7" />
<path d="M880.17,465.32 A13.8,13.8 0 0 1 860.30,472.55" fill="none" stroke="#111" stroke-width="1.7" />
<path d="M837.43,496.07 A13.8,13.8 0 0 1 833.33,480.78" fill="none" stroke="#111" stroke-width="1.7" />
<path d="M835.00,477.58 A13.8,13.8 0 0 1 858.25,478.60" fill="none" stroke="#111" stroke-width="1.7" />
<path d="M858.25,492.40 A13.8,13.8 0 0 1 841.58,498.47" fill="none" stroke="#111" stroke-width="1.7" />
<path d="M876.23,489.92 A13.8,13.8 0 0 1 880.33,474.63" fill="none" stroke="#111" stroke-width="1.7" />
<path d="M884.48,472.23 A13.8,13.8 0 0 1 901.15,478.30" fill="none" stroke="#111" stroke-width="1.7" />
<path d="M902.17,480.48 A13.8,13.8 0 0 1 896.10,497.15" fill="none" stroke="#111" stroke-width="1.7" />
<path d="M893.92,498.17 A13.8,13.8 0 0 1 878.63,494.07" fill="none" stroke="#111" stroke-width="1.7" />
<path d="M855.25,517.70 A13.8,13.8 0 0 1 855.90,502.88" fill="none" stroke="#111" stroke-width="1.7" />
<path d="M858.33,500.23 A13.8,13.8 0 0 1 877.77,501.93" fill="none" stroke="#111" stroke-width="1.7" />
<path d="M880.17,515.52 A13.8,13.8 0 0 1 860.30,522.75" fill="none" stroke="#111" stroke-width="1.7" />
<line x1="867.6" y1="480" x2="867.6" y2="491" stroke="#111" stroke-width="1.55" />
<text x="843.2" y="457.4" font-size="24" class="num" text-anchor="start" textLength="10.8" lengthAdjust="spacingAndGlyphs">T</text>
<text x="819.3" y="506.3" font-size="24" class="num" text-anchor="start" textLength="13" lengthAdjust="spacingAndGlyphs">A</text>
<text x="907.6" y="504.7" font-size="24" class="num" text-anchor="start" textLength="12" lengthAdjust="spacingAndGlyphs">B</text>
<text x="843.2" y="534.4" font-size="24" class="num" text-anchor="start" textLength="11" lengthAdjust="spacingAndGlyphs">P</text>
<line x1="547" y1="485.6" x2="571" y2="485.6" stroke="#111" stroke-width="1.55" />
<line x1="592" y1="485.6" x2="680" y2="485.6" stroke="#111" stroke-width="1.55" stroke-dasharray="22 6"/>
<line x1="690" y1="485.6" x2="790" y2="485.6" stroke="#111" stroke-width="1.55" stroke-dasharray="40 8 10 8"/>
<line x1="795.3" y1="485.6" x2="922" y2="485.6" stroke="#111" stroke-width="1.55" />
<line x1="930" y1="485.6" x2="1006" y2="485.6" stroke="#111" stroke-width="1.55" stroke-dasharray="12 6 40 6"/>
<text x="693.5" y="412.7" font-size="24" class="num" text-anchor="start" >9</text>
<text x="709.2" y="400.5" font-size="20.5" class="cad" text-anchor="start" textLength="85" lengthAdjust="spacingAndGlyphs">4×Φ5.4</text>
<path d="M709,404.2 H805 L813.7,440" fill="none" stroke="#111" stroke-width="1.55" />
<polygon points="812.2,434 807.186,423.398 811.65,422.285" fill="#111"/>
<line x1="816.5" y1="455" x2="823.8" y2="484.8" stroke="#111" stroke-width="1.55" />
<polygon points="816.2,454.5 821.432,465.563 816.774,466.724" fill="#111"/>
<line x1="893.6" y1="427.2" x2="954.4" y2="396.8" stroke="#111" stroke-width="1.55" />
<text x="955" y="396.8" font-size="24" class="num" text-anchor="start" >1</text>
<rect x="948" y="451.2" width="32" height="67.8" rx="0" fill="none" stroke="#111" stroke-width="2.88"/>
<line x1="948" y1="463" x2="980" y2="463" stroke="#111" stroke-width="2.53" />
<line x1="948" y1="507.8" x2="980" y2="507.8" stroke="#111" stroke-width="2.53" />
<path d="M951.5,465 Q949.3,485.5 951.5,506" fill="none" stroke="#111" stroke-width="1.55" />
<path d="M976.5,465 Q978.7,485.5 976.5,506" fill="none" stroke="#111" stroke-width="1.55" />
<rect x="980" y="460.8" width="13.8" height="49" rx="0" fill="none" stroke="#111" stroke-width="2.53"/>
<line x1="944.7" y1="431.2" x2="1062" y2="431.2" stroke="#111" stroke-width="1.55" />
<line x1="944.7" y1="539.6" x2="1062" y2="539.6" stroke="#111" stroke-width="1.55" />
<line x1="1056.8" y1="431.2" x2="1056.8" y2="539.6" stroke="#111" stroke-width="1.55" />
<polygon points="1056.8,431.2 1059.5,445.2 1054.1,445.2" fill="#111"/>
<polygon points="1056.8,539.6 1054.1,525.6 1059.5,525.6" fill="#111"/>
<text x="1055" y="485.6" font-size="20" class="cad" text-anchor="middle" transform="rotate(-90 1055 485.6)" >44</text>
<line x1="921" y1="446" x2="1034" y2="446" stroke="#111" stroke-width="1.55" />
<line x1="921" y1="525.6" x2="1034" y2="525.6" stroke="#111" stroke-width="1.55" />
<line x1="1029.6" y1="446" x2="1029.6" y2="525.6" stroke="#111" stroke-width="1.55" />
<polygon points="1029.6,446 1032.3,460 1026.9,460" fill="#111"/>
<polygon points="1029.6,525.6 1026.9,511.6 1032.3,511.6" fill="#111"/>
<text x="1027.2" y="485.6" font-size="20" class="cad" text-anchor="middle" transform="rotate(-90 1027.2 485.6)" textLength="40" lengthAdjust="spacing">32.5</text>
<line x1="815.3" y1="532" x2="815.3" y2="568.5" stroke="#111" stroke-width="1.55" />
<line x1="914.3" y1="532" x2="914.3" y2="568.5" stroke="#111" stroke-width="1.55" />
<line x1="815.3" y1="564.8" x2="914.3" y2="564.8" stroke="#111" stroke-width="1.55" />
<polygon points="815.3,564.8 829.3,562.1 829.3,567.5" fill="#111"/>
<polygon points="914.3,564.8 900.3,567.5 900.3,562.1" fill="#111"/>
<text x="844" y="561" font-size="20.5" class="cad" text-anchor="start" textLength="43" lengthAdjust="spacing">40.5</text>
<line x1="944.7" y1="539.6" x2="944.7" y2="590.5" stroke="#111" stroke-width="1.55" />
<line x1="980" y1="519" x2="980" y2="605" stroke="#111" stroke-width="1.55" />
<line x1="944.7" y1="564.8" x2="1034.4" y2="564.8" stroke="#111" stroke-width="1.55" />
<polygon points="944.7,564.8 958.7,562.1 958.7,567.5" fill="#111"/>
<text x="989.6" y="561" font-size="20.5" class="cad" text-anchor="start" textLength="42" lengthAdjust="spacing">12.5</text>
<line x1="914.4" y1="588.2" x2="944.7" y2="588.2" stroke="#111" stroke-width="1.55" />
<polygon points="944.7,588.2 930.7,590.9 930.7,585.5" fill="#111"/>
<line x1="980" y1="588.2" x2="1056.8" y2="588.2" stroke="#111" stroke-width="1.55" />
<polygon points="980,588.2 994,585.5 994,590.9" fill="#111"/>
<text x="1013" y="584" font-size="20.5" class="cad" text-anchor="start" textLength="41.5" lengthAdjust="spacing">14.5</text>
<path d="M317,638.5 H434 V739 H317 Z" fill="none" stroke="#111" stroke-width="1.55" stroke-dasharray="22 4 6 4"/>
<circle cx="336" cy="657" r="4.2" fill="none" stroke="#111" stroke-width="2.07"/>
<line x1="329" y1="657" x2="343" y2="657" stroke="#111" stroke-width="1.55" />
<line x1="336" y1="649.5" x2="336" y2="664.5" stroke="#111" stroke-width="1.55" />
<circle cx="416" cy="656" r="4.2" fill="none" stroke="#111" stroke-width="2.07"/>
<line x1="409" y1="656" x2="423" y2="656" stroke="#111" stroke-width="1.55" />
<line x1="416" y1="648.5" x2="416" y2="663.5" stroke="#111" stroke-width="1.55" />
<circle cx="336" cy="719" r="4.2" fill="none" stroke="#111" stroke-width="2.07"/>
<line x1="329" y1="719" x2="343" y2="719" stroke="#111" stroke-width="1.55" />
<line x1="336" y1="711.5" x2="336" y2="726.5" stroke="#111" stroke-width="1.55" />
<circle cx="416" cy="720" r="4.2" fill="none" stroke="#111" stroke-width="2.07"/>
<line x1="409" y1="720" x2="423" y2="720" stroke="#111" stroke-width="1.55" />
<line x1="416" y1="712.5" x2="416" y2="727.5" stroke="#111" stroke-width="1.55" />
<circle cx="378.6" cy="667.6" r="7.4" fill="none" stroke="#111" stroke-width="2.18"/>
<circle cx="361.2" cy="688.3" r="7.4" fill="none" stroke="#111" stroke-width="2.18"/>
<circle cx="396" cy="688.3" r="7.4" fill="none" stroke="#111" stroke-width="2.18"/>
<circle cx="378.6" cy="708.6" r="7.4" fill="none" stroke="#111" stroke-width="2.18"/>
<line x1="372.6" y1="667.6" x2="384.6" y2="667.6" stroke="#111" stroke-width="1.2" />
<line x1="378.6" y1="661.6" x2="378.6" y2="673.6" stroke="#111" stroke-width="1.2" />
<line x1="355.2" y1="688.3" x2="367.2" y2="688.3" stroke="#111" stroke-width="1.2" />
<line x1="361.2" y1="682.3" x2="361.2" y2="694.3" stroke="#111" stroke-width="1.2" />
<line x1="390" y1="688.3" x2="402" y2="688.3" stroke="#111" stroke-width="1.2" />
<line x1="396" y1="682.3" x2="396" y2="694.3" stroke="#111" stroke-width="1.2" />
<line x1="372.6" y1="708.6" x2="384.6" y2="708.6" stroke="#111" stroke-width="1.2" />
<line x1="378.6" y1="702.6" x2="378.6" y2="714.6" stroke="#111" stroke-width="1.2" />
<line x1="336" y1="560" x2="336" y2="652" stroke="#111" stroke-width="1.55" />
<line x1="416" y1="560" x2="416" y2="652" stroke="#111" stroke-width="1.55" />
<line x1="361.2" y1="582" x2="361.2" y2="698" stroke="#111" stroke-width="1.55" />
<line x1="378.4" y1="604" x2="378.4" y2="676" stroke="#111" stroke-width="1.55" />
<line x1="396" y1="626" x2="396" y2="702" stroke="#111" stroke-width="1.55" />
<line x1="336" y1="564" x2="416" y2="564" stroke="#111" stroke-width="1.55" />
<polygon points="336,564 348,561.6 348,566.4" fill="#111"/>
<polygon points="416,564 404,566.4 404,561.6" fill="#111"/>
<text x="359.4" y="561" font-size="20" class="cad" text-anchor="start" textLength="33.5" lengthAdjust="spacing">40.5</text>
<line x1="361.2" y1="586" x2="416" y2="586" stroke="#111" stroke-width="1.55" />
<polygon points="361.2,586 373.2,583.6 373.2,588.4" fill="#111"/>
<polygon points="416,586 404,588.4 404,583.6" fill="#111"/>
<text x="372" y="583" font-size="20" class="cad" text-anchor="start" textLength="33" lengthAdjust="spacing">27.8</text>
<line x1="378.4" y1="607.4" x2="416" y2="607.4" stroke="#111" stroke-width="1.55" />
<polygon points="378.4,607.4 390.4,605 390.4,609.8" fill="#111"/>
<polygon points="416,607.4 404,609.8 404,605" fill="#111"/>
<text x="390" y="604.6" font-size="20" class="cad" text-anchor="start" >19</text>
<line x1="370.2" y1="629.2" x2="396" y2="629.2" stroke="#111" stroke-width="1.55" />
<polygon points="396,629.2 384,631.6 384,626.8" fill="#111"/>
<line x1="416" y1="629.2" x2="487.5" y2="629.2" stroke="#111" stroke-width="1.55" />
<polygon points="416,629.2 428,626.8 428,631.6" fill="#111"/>
<text x="447.3" y="626" font-size="20" class="cad" text-anchor="start" textLength="33.2" lengthAdjust="spacing">10.3</text>
<text x="236" y="607" font-size="20" class="cad" text-anchor="start" textLength="69" lengthAdjust="spacingAndGlyphs">4×M5;10</text>
<path d="M227,612 H321 L333.6,651" fill="none" stroke="#111" stroke-width="1.55" />
<polygon points="334.6,654 328.859,643.774 333.234,642.352" fill="#111"/>
<text x="230" y="630.5" font-size="16" class="sans" text-anchor="start" textLength="90.6" lengthAdjust="spacingAndGlyphs" stroke-width="0.55">阀固定螺纹孔</text>
<line x1="300" y1="657.4" x2="336" y2="657.4" stroke="#111" stroke-width="1.55" />
<line x1="300" y1="718.8" x2="457" y2="718.8" stroke="#111" stroke-width="1.55" />
<line x1="304" y1="657.4" x2="304" y2="718.8" stroke="#111" stroke-width="1.55" />
<polygon points="304,657.4 306.4,669.4 301.6,669.4" fill="#111"/>
<polygon points="304,718.8 301.6,706.8 306.4,706.8" fill="#111"/>
<text x="301" y="688.6" font-size="20" class="cad" text-anchor="middle" transform="rotate(-90 301 688.6)" >31</text>
<text x="363.6" y="665" font-size="19.5" class="num" text-anchor="start" textLength="8" lengthAdjust="spacingAndGlyphs" font-weight="normal">T</text>
<text x="343.6" y="704.4" font-size="18" class="num" text-anchor="start" textLength="10.5" lengthAdjust="spacingAndGlyphs">A</text>
<text x="404.8" y="703.4" font-size="18" class="num" text-anchor="start" textLength="9.6" lengthAdjust="spacingAndGlyphs">B</text>
<text x="358.4" y="722" font-size="18" class="num" text-anchor="start" textLength="9.2" lengthAdjust="spacingAndGlyphs">P</text>
<line x1="338" y1="663" x2="347" y2="686" stroke="#111" stroke-width="1.55" />
<polygon points="337.2,661 343.468,670.912 339.174,672.56" fill="#111"/>
<path d="M385,677 L376.3,719 L366,776.3 H251.7" fill="none" stroke="#111" stroke-width="1.55" />
<polygon points="379.6,703 379.741,691.273 384.241,692.229" fill="#111"/>
<polygon points="376.5,718.6 376.359,730.327 371.859,729.371" fill="#111"/>
<text x="253.8" y="774.2" font-size="20" class="cad" text-anchor="start" textLength="93.2" lengthAdjust="spacingAndGlyphs">4×Φ7.6max</text>
<line x1="416" y1="656" x2="548" y2="656" stroke="#111" stroke-width="1.55" />
<line x1="368" y1="667.6" x2="525" y2="667.6" stroke="#111" stroke-width="1.55" />
<line x1="387" y1="688.4" x2="501" y2="688.4" stroke="#111" stroke-width="1.55" />
<line x1="368" y1="708.6" x2="478" y2="708.6" stroke="#111" stroke-width="1.55" />
<line x1="416" y1="720.2" x2="548" y2="720.2" stroke="#111" stroke-width="1.55" />
<line x1="544.6" y1="656" x2="544.6" y2="720.2" stroke="#111" stroke-width="1.55" />
<polygon points="544.6,656 547,668 542.2,668" fill="#111"/>
<polygon points="544.6,720.2 542.2,708.2 547,708.2" fill="#111"/>
<text x="542" y="688" font-size="20" class="cad" text-anchor="middle" transform="rotate(-90 542 688)" textLength="34" lengthAdjust="spacing">32.5</text>
<line x1="522.6" y1="667.6" x2="522.6" y2="720.2" stroke="#111" stroke-width="1.55" />
<polygon points="522.6,667.6 525,679.6 520.2,679.6" fill="#111"/>
<polygon points="522.6,720.2 520.2,708.2 525,708.2" fill="#111"/>
<text x="520" y="693.5" font-size="20" class="cad" text-anchor="middle" transform="rotate(-90 520 693.5)" textLength="41" lengthAdjust="spacing">26.55</text>
<line x1="498" y1="688.4" x2="498" y2="781" stroke="#111" stroke-width="1.55" />
<polygon points="498,688.4 500.4,700.4 495.6,700.4" fill="#111"/>
<polygon points="498,720.2 495.6,708.2 500.4,708.2" fill="#111"/>
<text x="496" y="758" font-size="20" class="cad" text-anchor="middle" transform="rotate(-90 496 758)" textLength="42" lengthAdjust="spacing">16.25</text>
<line x1="475.6" y1="683" x2="475.6" y2="783" stroke="#111" stroke-width="1.55" />
<polygon points="475.6,708.6 473.2,696.6 478,696.6" fill="#111"/>
<polygon points="475.6,720.2 478,732.2 473.2,732.2" fill="#111"/>
<text x="473" y="763.5" font-size="20" class="cad" text-anchor="middle" transform="rotate(-90 473 763.5)" textLength="33" lengthAdjust="spacing">5.95</text>
<line x1="454" y1="693" x2="454" y2="783" stroke="#111" stroke-width="1.55" />
<polygon points="454,718.4 451.6,706.4 456.4,706.4" fill="#111"/>
<polygon points="454,720.6 456.4,732.6 451.6,732.6" fill="#111"/>
<text x="451" y="764.5" font-size="20" class="cad" text-anchor="middle" transform="rotate(-90 451 764.5)" textLength="33" lengthAdjust="spacing">0.75</text>
<rect x="891" y="655.6" width="137" height="22.8" rx="0" fill="none" stroke="#111" stroke-width="1.6"/>
<line x1="933.4" y1="655.6" x2="933.4" y2="678.4" stroke="#111" stroke-width="1.6" />
<polygon points="898,674 906,659.6 925,659.6 917,674" fill="none" stroke="#111" stroke-width="1.6" />
<text x="937.4" y="674.4" font-size="21" class="cad" text-anchor="start" textLength="87.6" lengthAdjust="spacing">0.08/100</text>
<path d="M891,667 H878 V712" fill="none" stroke="#111" stroke-width="1.55" />
<polygon points="878,720 875.7,708.5 880.3,708.5" fill="#111"/>
<text x="923" y="699.6" font-size="21" class="cad" text-anchor="start" textLength="31" lengthAdjust="spacing">0.8</text>
<path d="M929,702.4 H952 L940,720 Z" fill="none" stroke="#111" stroke-width="1.4" />
<line x1="940" y1="720" x2="962" y2="683" stroke="#111" stroke-width="1.4" />
<line x1="828.6" y1="721" x2="1019" y2="721" stroke="#111" stroke-width="3.22" />
<line x1="829.6" y1="721" x2="829.6" y2="740" stroke="#111" stroke-width="2.99" />
<line x1="845" y1="722" x2="831" y2="739.4" stroke="#111" stroke-width="2.07" />
<line x1="858.08" y1="722" x2="844.08" y2="739.4" stroke="#111" stroke-width="2.07" />
<line x1="871.16" y1="722" x2="857.16" y2="739.4" stroke="#111" stroke-width="2.07" />
<line x1="884.24" y1="722" x2="870.24" y2="739.4" stroke="#111" stroke-width="2.07" />
<line x1="897.32" y1="722" x2="883.32" y2="739.4" stroke="#111" stroke-width="2.07" />
<line x1="910.4" y1="722" x2="896.4" y2="739.4" stroke="#111" stroke-width="2.07" />
<line x1="923.48" y1="722" x2="909.48" y2="739.4" stroke="#111" stroke-width="2.07" />
<line x1="936.56" y1="722" x2="922.56" y2="739.4" stroke="#111" stroke-width="2.07" />
<line x1="949.64" y1="722" x2="935.64" y2="739.4" stroke="#111" stroke-width="2.07" />
<line x1="962.72" y1="722" x2="948.72" y2="739.4" stroke="#111" stroke-width="2.07" />
<line x1="975.8" y1="722" x2="961.8" y2="739.4" stroke="#111" stroke-width="2.07" />
<line x1="988.88" y1="722" x2="974.88" y2="739.4" stroke="#111" stroke-width="2.07" />
<line x1="1001.96" y1="722" x2="987.96" y2="739.4" stroke="#111" stroke-width="2.07" />
<line x1="1015.04" y1="722" x2="1001.04" y2="739.4" stroke="#111" stroke-width="2.07" />
<text x="828" y="766.5" font-size="20" class="cad" text-anchor="start" textLength="192" lengthAdjust="spacing">对安装底面的要求</text>
</svg>
</body></html>
